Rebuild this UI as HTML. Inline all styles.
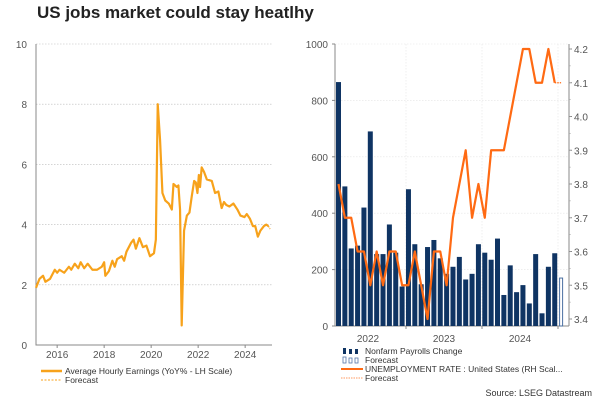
<!DOCTYPE html>
<html><head><meta charset="utf-8"><style>
body{margin:0;background:#fff;}
svg{display:block;font-family:"Liberation Sans",sans-serif;}
</style></head><body>
<svg id="c" width="600" height="400" viewBox="0 0 600 400">
<text x="37" y="18" font-size="17" font-weight="bold" fill="#222">US jobs market could stay heatlhy</text>
<g id="L"></g><g id="R"></g>
<g font-size="8.5" fill="#333">
<line x1="41" y1="371" x2="62" y2="371" stroke="#f7a21b" stroke-width="2.5"/>
<text x="65" y="374">Average Hourly Earnings  (YoY% - LH Scale)</text>
<line x1="41" y1="380" x2="62" y2="380" stroke="#f7a21b" stroke-width="1" stroke-dasharray="2,1.5"/>
<text x="65" y="383">Forecast</text>
</g>
<g font-size="8.5" fill="#333">
<rect x="343" y="348" width="3" height="6" fill="#0f3463"/><rect x="349" y="349" width="3" height="5" fill="#0f3463"/><rect x="355" y="349" width="3" height="5" fill="#0f3463"/>
<text x="365" y="354">Nonfarm Payrolls Change</text>
<rect x="343" y="357" width="3" height="6" fill="#fff" stroke="#5577aa" stroke-width="0.8"/><rect x="349" y="358" width="3" height="5" fill="#fff" stroke="#5577aa" stroke-width="0.8"/><rect x="355" y="358" width="3" height="5" fill="#fff" stroke="#5577aa" stroke-width="0.8"/>
<text x="365" y="363">Forecast</text>
<line x1="341" y1="369" x2="363" y2="369" stroke="#ff6a13" stroke-width="2"/>
<text x="365" y="372">UNEMPLOYMENT RATE : United States (RH Scal...</text>
<line x1="341" y1="378" x2="363" y2="378" stroke="#ff9a60" stroke-width="1" stroke-dasharray="1.5,1"/>
<text x="365" y="381">Forecast</text>
</g>
<text x="592" y="396" font-size="9" fill="#333" text-anchor="end">Source: LSEG Datastream</text>
</svg>
<script>
// Left chart data
const ahePeriods=[2015.1,2015.25,2015.4,2015.5,2015.7,2015.9,2016.0,2016.1,2016.3,2016.5,2016.6,2016.75,2016.9,2017.0,2017.15,2017.3,2017.5,2017.7,2017.9,2018.0,2018.05,2018.2,2018.35,2018.45,2018.55,2018.75,2018.85,2018.95,2019.15,2019.25,2019.35,2019.5,2019.65,2019.8,2019.95,2020.12,2020.2,2020.28,2020.38,2020.48,2020.6,2020.75,2020.88,2020.95,2021.09,2021.16,2021.23,2021.3,2021.4,2021.52,2021.63,2021.73,2021.83,2021.9,2021.97,2022.03,2022.08,2022.15,2022.25,2022.37,2022.58,2022.72,2022.86,2023.0,2023.1,2023.2,2023.33,2023.5,2023.67,2023.8,2023.97,2024.07,2024.2,2024.33,2024.43,2024.54,2024.65,2024.8,2024.9,2024.99];
const aheValues=[1.9,2.2,2.3,2.1,2.2,2.5,2.4,2.5,2.4,2.6,2.5,2.7,2.55,2.75,2.55,2.7,2.5,2.5,2.6,2.75,2.3,2.45,2.8,2.6,2.85,2.95,2.8,3.1,3.4,3.5,3.2,3.55,3.25,3.3,2.95,3.05,3.5,8.0,6.8,5.05,4.8,4.7,4.5,5.35,5.25,5.3,4.5,0.65,3.8,4.3,4.4,4.95,5.45,5.4,5.05,5.65,5.25,5.9,5.75,5.5,5.45,5.05,5.1,4.55,4.75,4.65,4.6,4.7,4.5,4.3,4.25,4.35,4.2,3.95,3.95,3.6,3.8,3.95,4.0,3.95];
const aheForecastPeriods=[2024.99,2025.06];
const aheForecastValues=[3.95,3.85];
const leftYTicks=[0,2,4,6,8,10];
const leftXTicks=[2016,2018,2020,2022,2024];
// Right chart data
const nfpValues=[865,495,275,285,420,690,255,255,360,260,140,485,290,148,280,305,240,185,210,245,165,185,290,260,235,310,110,215,120,145,80,255,45,210,258];
const nfpForecast=[170];
const unrateValues=[3.8,3.7,3.7,3.6,3.6,3.5,3.6,3.5,3.6,3.6,3.5,3.5,3.6,3.5,3.4,3.6,3.6,3.5,3.7,3.8,3.9,3.7,3.8,3.7,3.9,3.9,3.9,4.0,4.1,4.2,4.2,4.1,4.1,4.2,4.1];
const unrateForecast=[4.1,4.1];
const rightLeftTicks=[0,200,400,600,800,1000];
const rightRightTicks=[3.4,3.5,3.6,3.7,3.8,3.9,4.0,4.1,4.2];
const rightXLabels=["2022","2023","2024"];

const NS="http://www.w3.org/2000/svg";
function mk(parent,tag,attrs){const e=document.createElementNS(NS,tag);for(const k in attrs)e.setAttribute(k,attrs[k]);parent.appendChild(e);return e;}

// Left
const L=document.getElementById('L');
const lx=y=>36+(y-2015.1)*23.5, ly=v=>345-v*30.1;
leftYTicks.forEach(t=>{
 if(t>0){const g=mk(L,'line',{x1:36,x2:272,y1:ly(t),y2:ly(t),stroke:'#bbb','stroke-width':0.6,'stroke-dasharray':'1.5,1.5'});
 
 }
 const tx=mk(L,'text',{x:27,y:ly(t)+4,'font-size':10,fill:'#555','text-anchor':'end'});tx.textContent=t;
 
 
});
const la=mk(L,'path',{d:`M36,44V345H272`,stroke:'#888',fill:'none','stroke-width':1});


leftXTicks.forEach(t=>{
 mk(L,'line',{x1:lx(t),x2:lx(t),y1:345,y2:348,stroke:'#888'});
 const tx=mk(L,'text',{x:lx(t),y:358,'font-size':10,fill:'#555','text-anchor':'middle'});tx.textContent=t;
 
 
});
const ap=mk(L,'polyline',{points:ahePeriods.map((p,i)=>lx(p)+','+ly(aheValues[i])).join(' '),fill:'none',stroke:'#f7a21b','stroke-width':2.2,'stroke-linejoin':'round'});


const af=mk(L,'polyline',{points:aheForecastPeriods.map((p,i)=>lx(p)+','+ly(aheForecastValues[i])).join(' '),fill:'none',stroke:'#f7a21b','stroke-width':1.2,'stroke-dasharray':'1.5,1'});



// Right
const R=document.getElementById('R');
const bx=i=>338.5+i*6.36, by=v=>326-v*0.282, ry=v=>319-(v-3.4)*337.5;
[406,482,558].forEach(x=>mk(R,'line',{x1:x,x2:x,y1:44,y2:326,stroke:'#e4e4e4','stroke-width':0.6,'stroke-dasharray':'1.5,1.5'}));
rightLeftTicks.forEach(t=>{
 if(t>0)mk(R,'line',{x1:335,x2:569,y1:by(t),y2:by(t),stroke:'#e4e4e4','stroke-width':0.6,'stroke-dasharray':'1.5,1.5'});
 mk(R,'line',{x1:332,x2:335,y1:by(t),y2:by(t),stroke:'#888'});
 const tx=mk(R,'text',{x:328,y:by(t)+4,'font-size':10,fill:'#555','text-anchor':'end'});tx.textContent=t;
 
 
});
rightRightTicks.forEach(t=>{
 mk(R,'line',{x1:569,x2:572,y1:ry(t),y2:ry(t),stroke:'#888'});
 const tx=mk(R,'text',{x:574,y:ry(t)+4,'font-size':10,fill:'#555'});tx.textContent=t.toFixed(1);
 
 
});
for(let v=3.4;v<4.2;v+=0.05){mk(R,'line',{x1:569,x2:571,y1:ry(v),y2:ry(v),stroke:'#aaa','stroke-width':0.5});}
const ra=mk(R,'path',{d:'M335,44V326H569M569,44V326',stroke:'#888',fill:'none'});


rightXLabels.forEach((s,i)=>{
 const tx=mk(R,'text',{x:368+i*76,y:342,'font-size':10,fill:'#555','text-anchor':'middle'});tx.textContent=s;
 
 
 mk(R,'line',{x1:406+i*76,x2:406+i*76,y1:326,y2:329,stroke:'#888'});
});
nfpValues.forEach((v,i)=>{
 const b=mk(R,'rect',{x:bx(i)-2.5,y:by(v),width:5,height:326-by(v),fill:'#0f3463'});
 
 
});
nfpForecast.forEach((v,i)=>{
 const b=mk(R,'rect',{x:bx(nfpValues.length+i)-1.5,y:by(v),width:3,height:326-by(v),fill:'#fff',stroke:'#4a6fa0','stroke-width':1});
 
 
});
const ul=mk(R,'polyline',{points:unrateValues.map((v,i)=>bx(i)+','+ry(v)).join(' '),fill:'none',stroke:'#ff6a13','stroke-width':2.2,'stroke-linejoin':'round'});


const uf=mk(R,'polyline',{points:unrateForecast.map((v,i)=>bx(unrateValues.length-1+i)+','+ry(v)).join(' '),fill:'none',stroke:'#ff6a13','stroke-width':1.2,'stroke-dasharray':'1.5,1'});


</script>
</body></html>
